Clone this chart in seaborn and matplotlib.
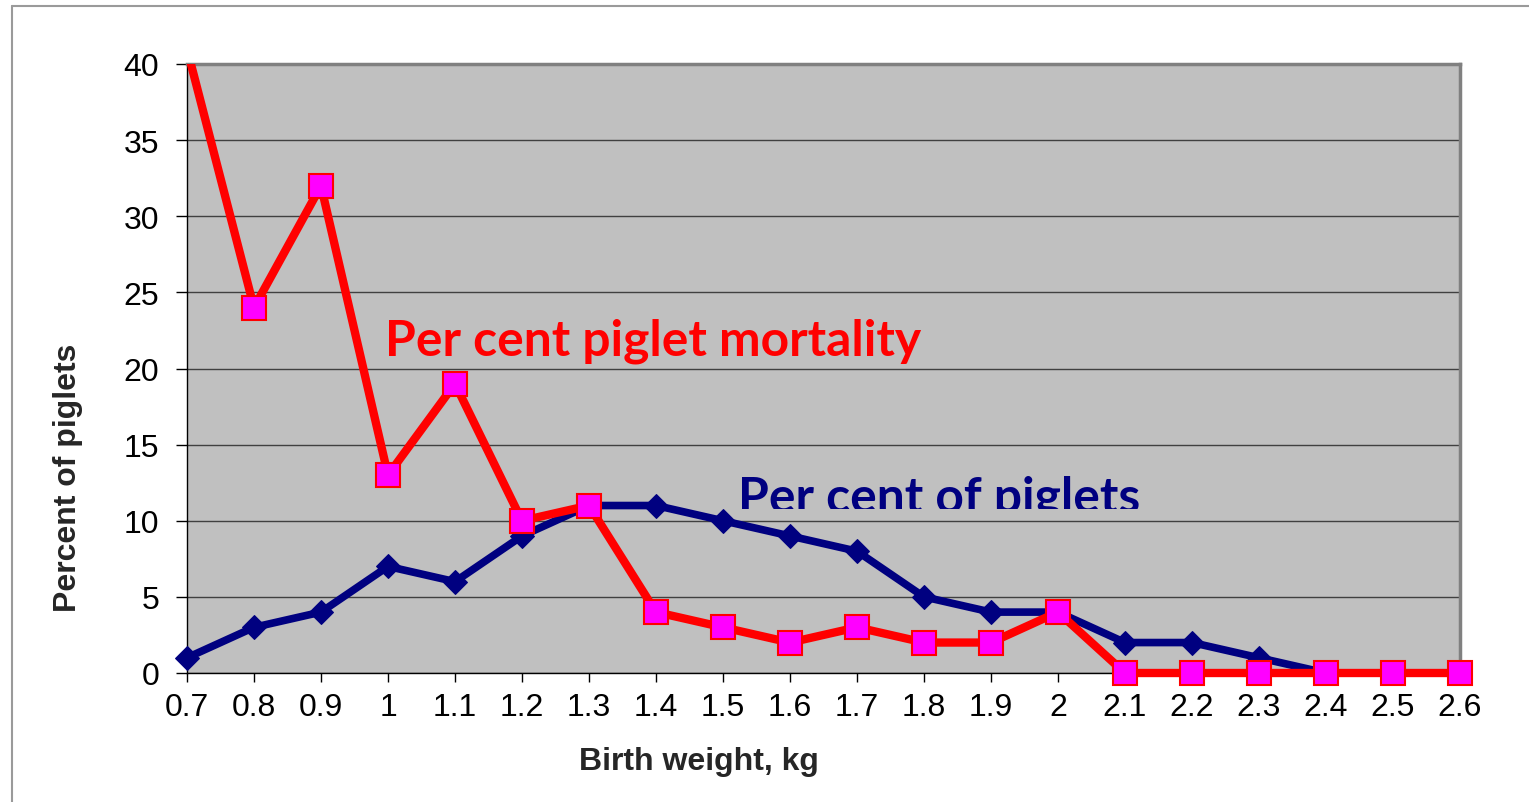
import matplotlib
matplotlib.use("Agg")
import matplotlib.pyplot as plt
import seaborn as sns
from matplotlib.patches import Rectangle
from matplotlib.lines import Line2D

# --- Data --- #
weights = [0.7, 0.8, 0.9, 1.0, 1.1, 1.2, 1.3, 1.4, 1.5, 1.6,
           1.7, 1.8, 1.9, 2.0, 2.1, 2.2, 2.3, 2.4, 2.5, 2.6]
weight_labels = ["0.7", "0.8", "0.9", "1", "1.1", "1.2", "1.3", "1.4", "1.5", "1.6",
                 "1.7", "1.8", "1.9", "2", "2.1", "2.2", "2.3", "2.4", "2.5", "2.6"]
pct_piglets = [1, 3, 4, 7, 6, 9, 11, 11, 10, 9, 8, 5, 4, 4, 2, 2, 1, 0, 0, 0]
pct_mortality = [41, 24, 32, 13, 19, 10, 11, 4, 3, 2, 3, 2, 2, 4, 0, 0, 0, 0, 0, 0]
y_ticks = [0, 5, 10, 15, 20, 25, 30, 35, 40]

sns.set_theme(style="white")
plt.rcParams['font.family'] = ['Liberation Sans', 'DejaVu Sans']

fig = plt.figure(figsize=(15.29, 8.03), dpi=100)
ax = fig.add_axes([187 / 1529, 1 - 674 / 803, (1460 - 187) / 1529, (674 - 65) / 803])
ax.set_facecolor("#C0C0C0")

# blue series underneath, red on top
sns.lineplot(x=weights, y=pct_piglets, color="#000080", linewidth=5.5,
             marker="D", markersize=12.5, markeredgecolor="#000080",
             ax=ax, zorder=3)
sns.lineplot(x=weights, y=pct_mortality, color="#FF0000", linewidth=6,
             marker="s", markersize=17, markerfacecolor="#FF00FF",
             markeredgecolor="#FF0000", markeredgewidth=1.5,
             ax=ax, zorder=4)

# clip only the top edge (values above 40), let markers overhang the sides
for line in ax.lines:
    line.set_clip_on(True)
    line.set_clip_box(None)
    line.set_clip_path(Rectangle((-0.05, -0.05), 1.1, 1.05, transform=ax.transAxes))

ax.set_xlim(weights[0], weights[-1])
ax.set_ylim(0, 40)
ax.set_xticks(weights)
ax.set_xticklabels(weight_labels)
ax.set_yticks(y_ticks)
ax.tick_params(axis="x", labelsize=23, colors="black", direction="out",
               length=6.5, width=1, pad=7, bottom=True)
ax.tick_params(axis="y", labelsize=23, colors="black", direction="out",
               length=8, width=1, pad=12, left=True)
ax.yaxis.grid(True, color="#404040", linewidth=1)
ax.set_axisbelow(True)

for side in ["left", "bottom"]:
    ax.spines[side].set_color("black")
    ax.spines[side].set_linewidth(1)
for side in ["top", "right"]:
    ax.spines[side].set_color("#808080")
    ax.spines[side].set_linewidth(2.5)

ax.set_xlabel("Birth weight, kg", fontsize=23, fontweight="bold", va="center")
ax.xaxis.set_label_coords((699 - 187) / 1273, (674 - 762) / 609)
ax.set_ylabel("Percent of piglets", fontsize=23, fontweight="bold", va="center")
ax.yaxis.set_label_coords((68 - 187) / 1273, (674 - 478) / 609)

# series labels
ax.text(0.995, 20.9, "Per cent piglet mortality", color="#FF0000", fontsize=35.8,
        fontweight="bold", family=["Lato", "DejaVu Sans"], va="baseline", zorder=5)
t = ax.text(1.522, 10.6, "Per cent of piglets", color="#000080", fontsize=35.8,
            fontweight="bold", family=["Lato", "DejaVu Sans"], va="baseline", zorder=5)
t.set_clip_on(True)
t.set_clip_path(Rectangle((1.4, 10.77), 1.0, 10, transform=ax.transData))

# outer chart border (left and top edges)
fig.add_artist(Line2D([12 / 1529, 12 / 1529], [0, 1 - 7 / 803],
                      transform=fig.transFigure, color="#9A9A9A", linewidth=1.5))
fig.add_artist(Line2D([12 / 1529, 1], [1 - 7 / 803, 1 - 7 / 803],
                      transform=fig.transFigure, color="#9A9A9A", linewidth=1.5))

fig.savefig("out.png", dpi=100)
